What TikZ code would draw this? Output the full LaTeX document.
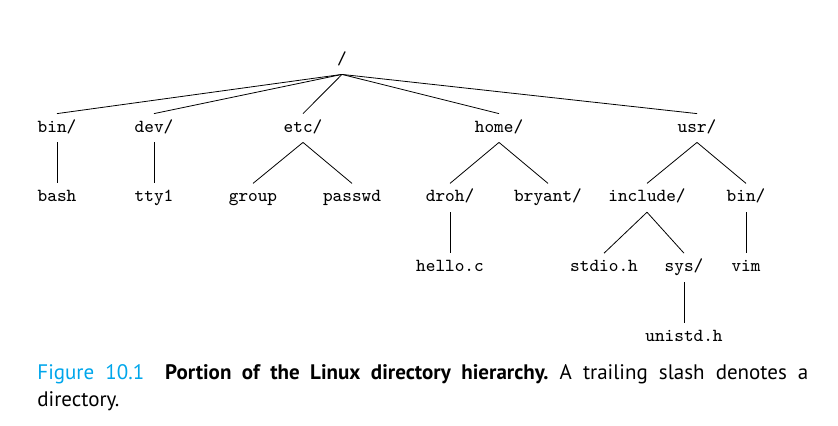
\documentclass[tikz,border=0pt]{standalone}
\usepackage{fontspec}
\setsansfont{PT Sans}
\usepackage{tikz}
\usetikzlibrary{positioning}
\definecolor{figblue}{RGB}{0,166,235}

\begin{document}
\frenchspacing
\begin{tikzpicture}[x=0.5pt, y=-0.5pt,
        node distance=20.5pt and 0pt,
        dir/.style={font=\ttfamily\fontsize{9.2}{11}\selectfont, text height=6pt, text depth=2pt, inner xsep=1pt, inner ysep=3pt}]
        \useasboundingbox (0,0) rectangle (838,425);
        % Place nodes
        \node [dir] (root) at (342,60) {/};
        \node [dir] (bin) at (57,128) {bin/};
        \node [dir] (dev) at (154,128) {dev/};
        \node [dir] (etc) at (303,128) {etc/};
        \node [dir] (home) at (499,128) {home/};
        \node [dir] (usr) at (697,128) {usr/};

        \node [dir, below=of bin] (bash) {bash};
        \node [dir, below=of dev] (tty) {tty1};
        \node [dir, below=of etc, xshift=-25pt] (group) {group};
        \node [dir, below=of etc, xshift=24.5pt] (passwd) {passwd};
        \node [dir, below=of home, xshift=-24.5pt] (droh) {droh/};
        \node [dir, below=of home, xshift=24.5pt] (bryant) {bryant/};
        \node [dir, below=of usr, xshift=-25pt] (include) {include/};
        \node [dir, below=of usr, xshift=24.5pt] (usrbin) {bin/};

        \node [dir, below=of droh] (hello) {hello.c};
        \node [dir, below=of include, xshift=-21.5pt] (stdio) {stdio.h};
        \node [dir, below=of include, xshift=18.5pt] (sys) {sys/};
        \node [dir, below=of usrbin] (vim) {vim};

        \node [dir, below=of sys] (unistd) {unistd.h};

        % Caption
        \node [anchor=north west, inner sep=0pt, text width=385.5pt, align=justify,
            font=\sffamily\fontsize{10.5}{13.5}\selectfont] (caption) at (37,364)
            {\textcolor{figblue}{Figure 10.1}\quad\textbf{Portion of the Linux directory hierarchy.} A trailing slash denotes a\linebreak directory.};

        % Draw edges
        \path[draw]
        (root.south) edge (bin.north)
        edge (dev.north)
        edge (etc.north)
        edge (home.north)
        edge (usr.north)

        (bin.south) edge (bash.north)
        (dev.south) edge (tty.north)
        (etc.south) edge (group.north)
        edge (passwd.north)
        (home.south) edge (droh.north)
        edge (bryant.north)
        (usr.south) edge (include.north)
        edge (usrbin.north)

        (droh.south) edge (hello.north)
        (include.south) edge (stdio.north)
        edge (sys.north)
        (usrbin.south) edge (vim.north)
        (sys.south) edge (unistd.north);

    \end{tikzpicture}
\end{document}
